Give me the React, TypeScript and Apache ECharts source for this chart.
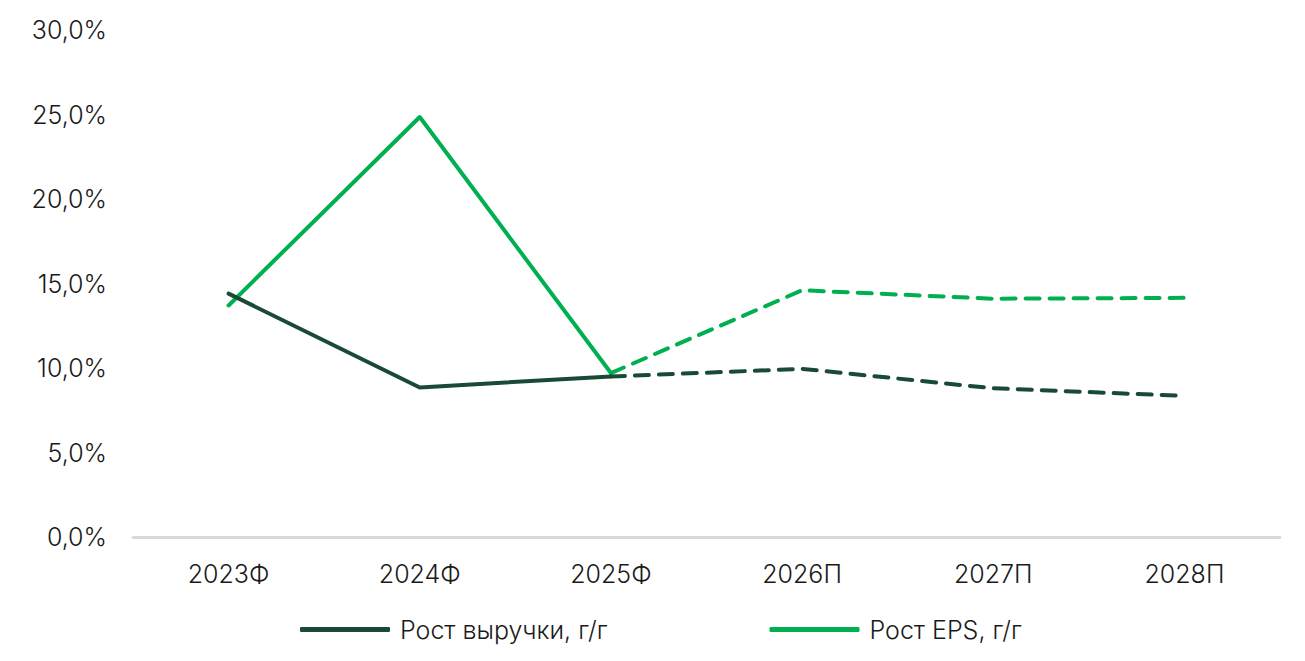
import React, { useEffect, useRef } from "react";
import * as echarts from "echarts";

const categories = ["2023Ф", "2024Ф", "2025Ф", "2026П", "2027П", "2028П"];
const revenueGrowth = [14.4, 8.85, 9.5, 9.95, 8.8, 8.35];
const epsGrowth = [13.7, 24.85, 9.7, 14.6, 14.1, 14.15];
const factCount = 3; // first three are actual (solid), rest forecast (dashed)
const seriesNames = ["Рост выручки, г/г", "Рост EPS, г/г"];
const yTicks = { min: 0, max: 30, interval: 5 };

const DARK = "#184a35";
const GREEN = "#00b050";
const FONT = "Inter, 'Noto Sans', sans-serif";
const FS = 25;

function split(values: number[]) {
  const solid = values.map((v, i) => (i < factCount ? v : null));
  const dashed = values.map((v, i) => (i >= factCount - 1 ? v : null));
  return { solid, dashed };
}

export default function App() {
  const ref = useRef<HTMLDivElement>(null);
  useEffect(() => {
    if (!ref.current) return;
    const chart = echarts.init(ref.current, undefined, { renderer: "svg" });
    const rev = split(revenueGrowth);
    const eps = split(epsGrowth);
    const lineBase = (color: string, dashed: boolean) => ({
      color,
      width: 4,
      type: dashed ? [14, 10] : "solid",
      cap: "round",
      join: "round",
    });
    chart.setOption({
      animation: false,
      backgroundColor: "#ffffff",
      textStyle: { fontFamily: FONT },
      grid: { left: 133, right: 25, top: 30, bottom: 124, containLabel: false },
      legend: {
        data: seriesNames.map((n) => ({ name: n, icon: "roundRect" })),
        bottom: 14,
        left: 295,
        itemWidth: 90,
        itemHeight: 5,
        itemGap: 162,
        textStyle: {
          fontSize: FS,
          color: "#1a1a1a",
          fontFamily: FONT,
          fontWeight: 300,
          padding: [0, 0, 0, 5],
        },
      },
      xAxis: {
        type: "category",
        data: categories,
        boundaryGap: true,
        axisLine: { show: true, lineStyle: { color: "#d9d9d9", width: 3 } },
        axisTick: { show: false },
        axisLabel: { fontSize: FS, color: "#1a1a1a", margin: 24, fontFamily: FONT, fontWeight: 300 },
        splitLine: { show: false },
      },
      yAxis: {
        type: "value",
        min: yTicks.min,
        max: yTicks.max,
        interval: yTicks.interval,
        axisLine: { show: false },
        axisTick: { show: false },
        splitLine: { show: false },
        axisLabel: {
          fontSize: FS,
          color: "#1a1a1a",
          margin: 26,
          fontFamily: FONT,
          fontWeight: 300,
          formatter: (v: number) => v.toFixed(1).replace(".", ",") + "%",
        },
      },
      series: [
        {
          name: seriesNames[0],
          type: "line",
          data: rev.solid,
          showSymbol: false,
          symbol: "none",
          color: DARK,
          lineStyle: lineBase(DARK, false),
          z: 3,
        },
        {
          name: seriesNames[0] + " (прогноз)",
          type: "line",
          data: rev.dashed,
          showSymbol: false,
          symbol: "none",
          color: DARK,
          lineStyle: lineBase(DARK, true),
          z: 3,
        },
        {
          name: seriesNames[1],
          type: "line",
          data: eps.solid,
          showSymbol: false,
          symbol: "none",
          color: GREEN,
          lineStyle: lineBase(GREEN, false),
          z: 2,
        },
        {
          name: seriesNames[1] + " (прогноз)",
          type: "line",
          data: eps.dashed,
          showSymbol: false,
          symbol: "none",
          color: GREEN,
          lineStyle: lineBase(GREEN, true),
          z: 2,
        },
      ],
    });
    return () => chart.dispose();
  }, []);
  return (
    <div
      ref={ref}
      style={{ position: "fixed", left: 0, top: 0, width: 1305, height: 661 }}
    />
  );
}
